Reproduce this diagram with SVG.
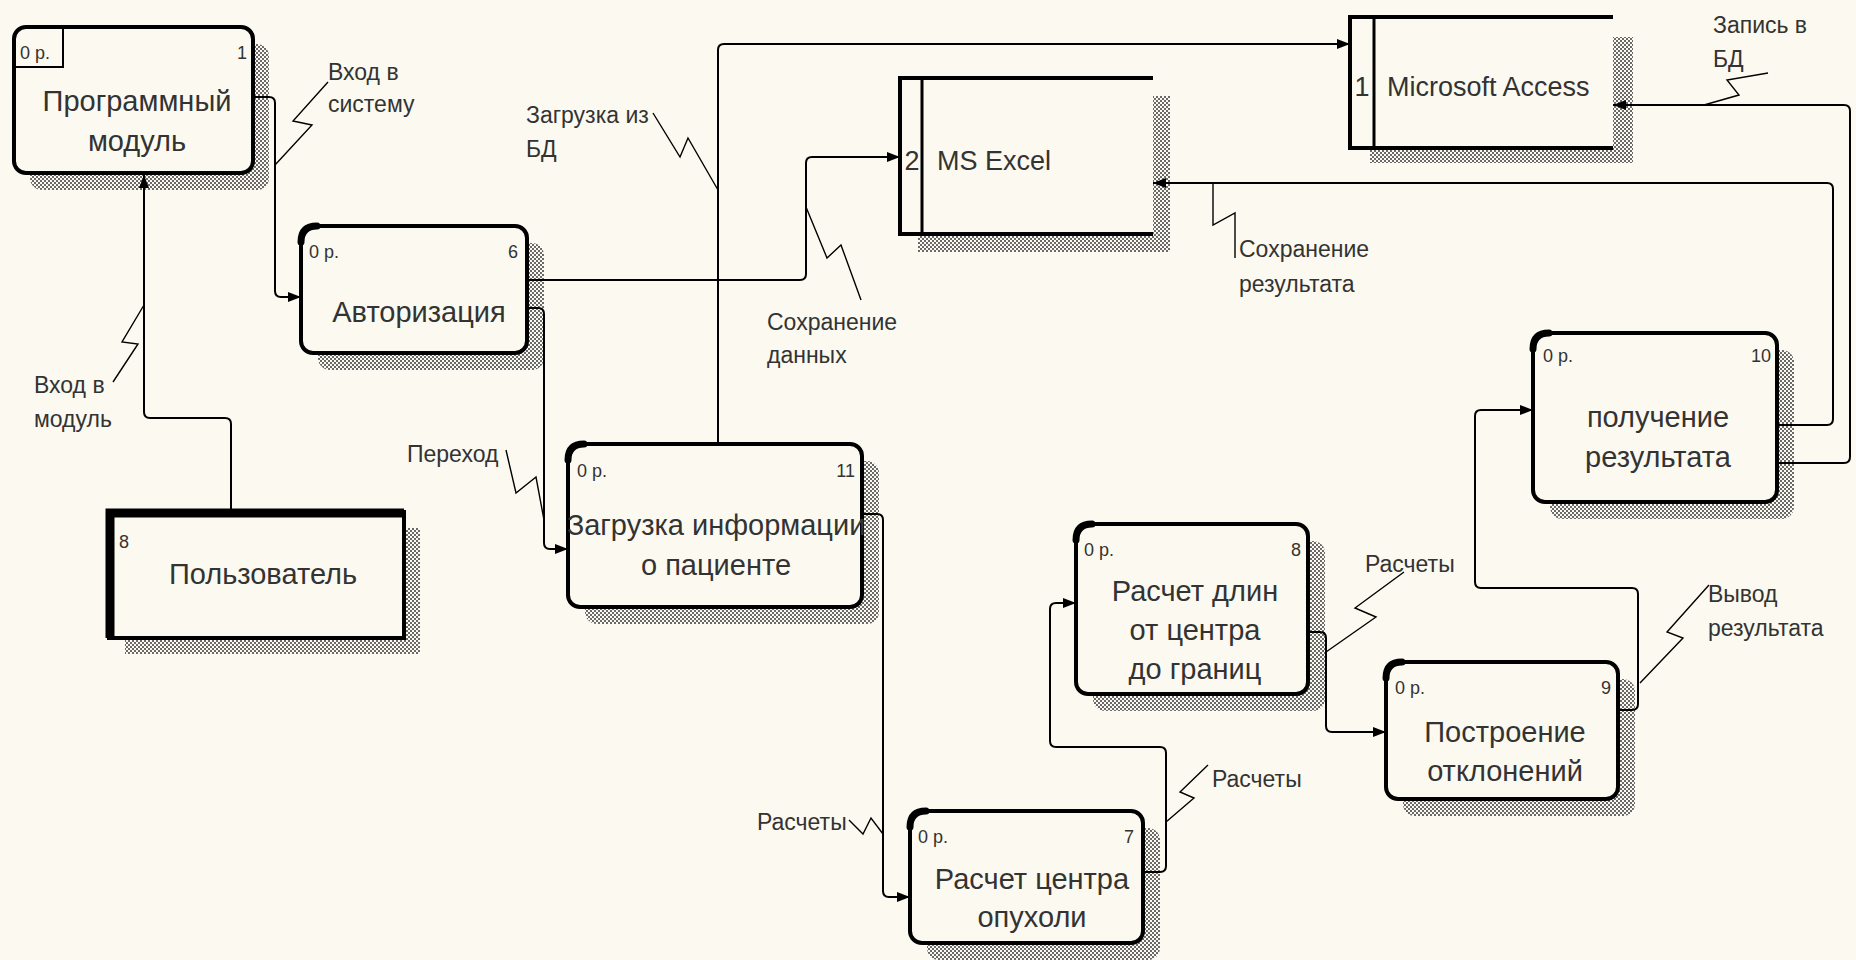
<svg xmlns="http://www.w3.org/2000/svg" width="1856" height="960" viewBox="0 0 1856 960">
<defs>
<pattern id="hatch" width="4" height="4" patternUnits="userSpaceOnUse">
<rect width="4" height="4" fill="#fcfaf0"/>
<rect width="2" height="2" fill="#6a6a6a"/>
<rect x="2" y="2" width="2" height="2" fill="#6a6a6a"/>
</pattern>
<marker id="arr" markerWidth="14" markerHeight="12" refX="13" refY="6" orient="auto" markerUnits="userSpaceOnUse">
<path d="M0,1 L13,6 L0,11 z" fill="#000"/>
</marker>
<style>
.sh{fill:url(#hatch)}
.box{fill:#fcfaf0;stroke:#000;stroke-width:4}
.cor{fill:none;stroke:#000;stroke-width:7;stroke-linecap:round}
.bg{fill:#fcfaf0}
.sl{fill:none;stroke:#000;stroke-width:4}
.t{font-family:"Liberation Sans",Arial,sans-serif;fill:#333}
.nt{font-size:29px;text-anchor:middle}
.sm{font-size:18px}
.lb{font-size:23px}
.st{font-size:27px}
.e{text-anchor:end}
.ln{fill:none;stroke:#000;stroke-width:2}
.ar{marker-end:url(#arr)}
.sq{fill:none;stroke:#000;stroke-width:1.4}
</style>
</defs>
<rect width="1856" height="960" fill="#fcfaf0"/>

<g id="node-programmny-modul">
<rect class="sh" x="30" y="44" width="239" height="146" rx="12"/>
<rect class="box" x="14" y="27" width="239" height="146" rx="12"/>
<path d="M14,67 H63 V27" fill="none" stroke="#000" stroke-width="2"/>
<text class="t sm" x="20" y="59">0 р.</text>
<text class="t sm e" x="247" y="59">1</text>
<text class="t nt" x="137" y="111">Программный</text>
<text class="t nt" x="137" y="151">модуль</text>
</g>

<g id="node-avtorizatsiya">
<rect class="sh" x="318" y="243" width="226" height="127" rx="12"/>
<rect class="box" x="301" y="226" width="226" height="127" rx="12"/>
<path class="cor" d="M301,242 Q301,226 317,226"/>
<text class="t sm" x="309" y="258">0 р.</text>
<text class="t sm e" x="518" y="258">6</text>
<text class="t nt" x="419" y="322">Авторизация</text>
</g>

<g id="node-zagruzka">
<rect class="sh" x="585" y="461" width="294" height="163" rx="12"/>
<rect class="box" x="568" y="444" width="294" height="163" rx="12"/>
<path class="cor" d="M568,460 Q568,444 584,444"/>
<text class="t sm" x="577" y="477">0 р.</text>
<text class="t sm e" x="855" y="477">11</text>
<text class="t nt" x="716" y="535">Загрузка информации</text>
<text class="t nt" x="716" y="575">о пациенте</text>
</g>

<g id="node-polzovatel">
<rect class="sh" x="125" y="528" width="295" height="126"/>
<rect class="box" x="109" y="512" width="295" height="126"/>
<path d="M110,638 V513 H404" fill="none" stroke="#000" stroke-width="9"/>
<text class="t sm" x="119" y="548">8</text>
<text class="t nt" x="263" y="584">Пользователь</text>
</g>

<g id="node-raschet-dlin">
<rect class="sh" x="1093" y="541" width="232" height="170" rx="12"/>
<rect class="box" x="1076" y="524" width="232" height="170" rx="12"/>
<path class="cor" d="M1076,540 Q1076,524 1092,524"/>
<text class="t sm" x="1084" y="556">0 р.</text>
<text class="t sm e" x="1301" y="556">8</text>
<text class="t nt" x="1195" y="601">Расчет длин</text>
<text class="t nt" x="1195" y="640">от центра</text>
<text class="t nt" x="1195" y="679">до границ</text>
</g>

<g id="node-postroenie">
<rect class="sh" x="1403" y="679" width="232" height="137" rx="12"/>
<rect class="box" x="1386" y="662" width="232" height="137" rx="12"/>
<path class="cor" d="M1386,678 Q1386,662 1402,662"/>
<text class="t sm" x="1395" y="694">0 р.</text>
<text class="t sm e" x="1611" y="694">9</text>
<text class="t nt" x="1505" y="742">Построение</text>
<text class="t nt" x="1505" y="781">отклонений</text>
</g>

<g id="node-poluchenie">
<rect class="sh" x="1550" y="350" width="244" height="169" rx="12"/>
<rect class="box" x="1533" y="333" width="244" height="169" rx="12"/>
<path class="cor" d="M1533,349 Q1533,333 1549,333"/>
<text class="t sm" x="1543" y="362">0 р.</text>
<text class="t sm e" x="1771" y="362">10</text>
<text class="t nt" x="1658" y="427">получение</text>
<text class="t nt" x="1658" y="467">результата</text>
</g>

<g id="node-raschet-tsentra">
<rect class="sh" x="927" y="828" width="233" height="132" rx="12"/>
<rect class="box" x="910" y="811" width="233" height="132" rx="12"/>
<path class="cor" d="M910,827 Q910,811 926,811"/>
<text class="t sm" x="918" y="843">0 р.</text>
<text class="t sm e" x="1134" y="843">7</text>
<text class="t nt" x="1032" y="889">Расчет центра</text>
<text class="t nt" x="1032" y="927">опухоли</text>
</g>

<g id="store-ms-excel">
<rect class="sh" x="918" y="96" width="252" height="156"/>
<rect class="bg" x="900" y="78" width="253" height="156"/>
<path class="sl" d="M1153,78 H900 V234 H1153"/>
<path d="M922,78 V234" stroke="#000" stroke-width="3"/>
<text class="t st" x="912" y="170" text-anchor="middle">2</text>
<text class="t st" x="937" y="170">MS Excel</text>
</g>

<g id="store-ms-access">
<rect class="sh" x="1370" y="37" width="263" height="126"/>
<rect class="bg" x="1350" y="17" width="263" height="131"/>
<path class="sl" d="M1613,17 H1350 V148 H1613"/>
<path d="M1374,17 V148" stroke="#000" stroke-width="3"/>
<text class="t st" x="1362" y="96" text-anchor="middle">1</text>
<text class="t st" x="1387" y="96">Microsoft Access</text>
</g>

<g id="connectors">
<path class="ln ar" d="M231,512 V424 Q231,418 225,418 H150 Q144,418 144,412 V175"/>
<path class="sq" d="M113,382 L138,344 L122,342 L144,305"/>
<text class="t lb" x="34" y="393">Вход в</text>
<text class="t lb" x="34" y="427">модуль</text>

<path class="ln ar" d="M253,97 H269 Q275,97 275,103 V291 Q275,297 281,297 H301"/>
<path class="sq" d="M328,82 L293,121 L312,125 L275,165"/>
<text class="t lb" x="328" y="80">Вход в</text>
<text class="t lb" x="328" y="112">систему</text>

<path class="ln ar" d="M527,280 H800 Q806,280 806,274 V163 Q806,157 812,157 H900"/>
<path class="sq" d="M861,300 L841,245 L827,258 L806,207"/>
<text class="t lb" x="767" y="330">Сохранение</text>
<text class="t lb" x="767" y="363">данных</text>

<path class="ln ar" d="M718,444 V50 Q718,44 724,44 H1350"/>
<path class="sq" d="M653,113 L680,157 L688,138 L718,190"/>
<text class="t lb" x="526" y="123">Загрузка из</text>
<text class="t lb" x="526" y="157">БД</text>

<path class="ln ar" d="M527,308 H538 Q544,308 544,314 V543 Q544,549 550,549 H568"/>
<path class="sq" d="M506,450 L516,493 L536,477 L544,520"/>
<text class="t lb" x="407" y="462">Переход</text>

<path class="ln ar" d="M862,514 H877 Q883,514 883,520 V891 Q883,897 889,897 H910"/>
<path class="sq" d="M849,820 L863,834 L871,818 L883,834"/>
<text class="t lb" x="757" y="830">Расчеты</text>

<path class="ln ar" d="M1143,872 H1160 Q1166,872 1166,866 V753 Q1166,747 1160,747 H1056 Q1050,747 1050,741 V609 Q1050,603 1056,603 H1076"/>
<path class="sq" d="M1208,765 L1180,792 L1194,798 L1166,822"/>
<text class="t lb" x="1212" y="787">Расчеты</text>

<path class="ln ar" d="M1308,632 H1320 Q1326,632 1326,638 V726 Q1326,732 1332,732 H1386"/>
<path class="sq" d="M1404,572 L1355,608 L1376,617 L1326,652"/>
<text class="t lb" x="1365" y="572">Расчеты</text>

<path class="ln ar" d="M1618,710 H1632 Q1638,710 1638,704 V594 Q1638,588 1632,588 H1481 Q1475,588 1475,582 V416 Q1475,410 1481,410 H1533"/>
<path class="sq" d="M1709,585 L1667,632 L1683,638 L1640,683"/>
<text class="t lb" x="1708" y="602">Вывод</text>
<text class="t lb" x="1708" y="636">результата</text>

<path class="ln ar" d="M1777,425 H1827 Q1833,425 1833,419 V189 Q1833,183 1827,183 H1153"/>
<path class="sq" d="M1213,183 V225 L1235,213 V258"/>
<text class="t lb" x="1239" y="257">Сохранение</text>
<text class="t lb" x="1239" y="292">результата</text>

<path class="ln ar" d="M1777,463 H1844 Q1850,463 1850,457 V111 Q1850,105 1844,105 H1613"/>
<path class="sq" d="M1768,73 L1727,80 L1739,95 L1704,105"/>
<text class="t lb" x="1713" y="33">Запись в</text>
<text class="t lb" x="1713" y="67">БД</text>
</g>
</svg>
